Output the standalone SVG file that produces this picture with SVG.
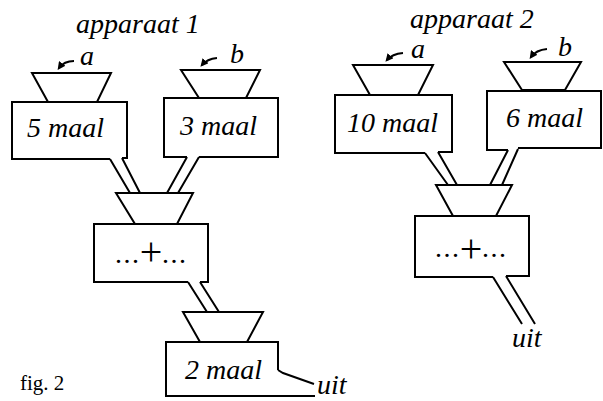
<svg xmlns="http://www.w3.org/2000/svg" width="603" height="401" viewBox="0 0 603 401">
<defs>
<style>
.s{fill:none;stroke:#000;stroke-width:2;stroke-linejoin:miter}
.h{fill:#fff;stroke:#000;stroke-width:2}
.t{font-family:"Liberation Serif","Times New Roman",serif;font-style:italic;font-size:28px;fill:#000}
.d{font-family:"Liberation Serif","Times New Roman",serif;font-size:28px;letter-spacing:1.5px;fill:#000}
.q{font-family:"Liberation Serif","Times New Roman",serif;font-size:40px;fill:#000;text-anchor:middle}
.f{font-family:"Liberation Serif","Times New Roman",serif;font-size:21px;fill:#000}
</style>
<marker id="ah" viewBox="0 0 10 10" refX="7" refY="5" markerWidth="8" markerHeight="8" orient="auto" markerUnits="userSpaceOnUse">
<path d="M0,0 L10,5 L0,10 z" fill="#000"/>
</marker>
</defs>
<rect width="603" height="401" fill="#fff"/>

<text class="t" x="76" y="33">apparaat 1</text>
<text class="t" x="410" y="28">apparaat 2</text>
<text class="f" x="20" y="390">fig. 2</text>

<g id="connectors">
<path class="s" d="M74,61 Q64,61 59,68" marker-end="url(#ah)"/>
<path class="s" d="M217,58 Q207,59 202,65" marker-end="url(#ah)"/>
<path class="s" d="M403,53 Q392,54 387,60" marker-end="url(#ah)"/>
<path class="s" d="M547,49 Q536,50 531,57" marker-end="url(#ah)"/>
<path class="s" d="M110,159 L130,193 M122,158 L140,193"/>
<path class="s" d="M187,157 L167,193 M199,157 L178,193"/>
<path class="s" d="M188,282 L207,312 M200,282 L219,312"/>
<path class="s" d="M278,370 L283,373 L314,384 M278,396 H315"/>
<path class="s" d="M425,153 L448,185 M438,152 L457,185"/>
<path class="s" d="M508,150 L490,185 M518,149 L502,185"/>
<path class="s" d="M493,277 L522,324 M506,276 L535,324"/>
<text class="t" x="317" y="394">uit</text>
<text class="t" x="512" y="347">uit</text>
</g>

<g id="a1">
<text class="t" x="80" y="65">a</text>
<polygon class="h" points="32,73 111,73 97,102 48,102"/>
</g>
<g id="b1">
<text class="t" x="230" y="63">b</text>
<polygon class="h" points="181,70 260,70 246,98 199,98"/>
</g>
<g id="maal5">
<path class="s" d="M122,158 H127 V102 H12 V159 H110"/>
<text class="t" x="27" y="137">5 maal</text>
</g>
<g id="maal3">
<path class="s" d="M187,157 H164 V98 H278 V157 H199"/>
<text class="t" x="180" y="135">3 maal</text>
</g>
<g id="plus1">
<polygon class="h" points="116,193 193,193 177,224 135,224"/>
<path class="s" d="M188,282 H94 V224 H208 V282 H200"/>
<text class="d" x="115" y="263">...</text>
<text class="q" x="151" y="265">+</text>
<text class="d" x="162" y="263">...</text>
</g>
<g id="maal2">
<polygon class="h" points="183,312 263,312 247,342 200,342"/>
<path class="s" d="M278,370 V342 H166 V396 H278"/>
<text class="t" x="185" y="379">2 maal</text>
</g>

<g id="a2">
<text class="t" x="411" y="58">a</text>
<polygon class="h" points="353,65 433,65 418,95 370,95"/>
</g>
<g id="b2">
<text class="t" x="558" y="56">b</text>
<polygon class="h" points="504,62 581,62 565,90 522,90"/>
</g>
<g id="maal10">
<path class="s" d="M425,153 H335 V95 H452 V152 H438"/>
<text class="t" x="347" y="132">10 maal</text>
</g>
<g id="maal6">
<path class="s" d="M508,150 H487 V91 H601 V148 H518"/>
<text class="t" x="506" y="127">6 maal</text>
</g>
<g id="plus2">
<polygon class="h" points="436,185 512,185 496,216 453,216"/>
<path class="s" d="M493,277 H415 V216 H529 V276 H506"/>
<text class="d" x="435" y="257">...</text>
<text class="q" x="471" y="262">+</text>
<text class="d" x="482" y="257">...</text>
</g>
</svg>
